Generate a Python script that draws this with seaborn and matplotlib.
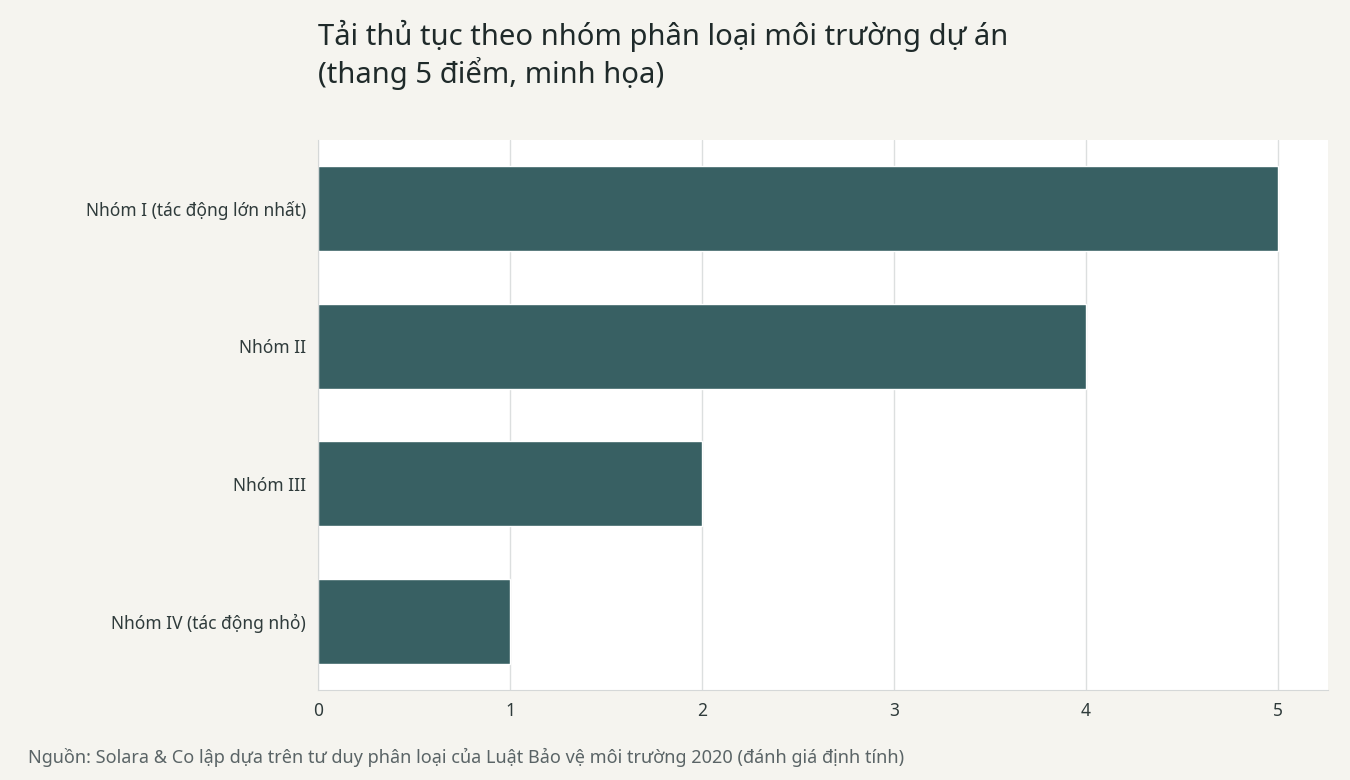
import matplotlib
matplotlib.use("Agg")
import matplotlib.pyplot as plt
import seaborn as sns
import pandas as pd

groups = ["Nhóm I (tác động lớn nhất)", "Nhóm II", "Nhóm III", "Nhóm IV (tác động nhỏ)"]
scores = [5, 4, 2, 1]

df = pd.DataFrame({"group": groups, "score": scores})

sns.set_style("whitegrid")
plt.rcParams["font.family"] = ["Noto Sans", "DejaVu Sans"]

fig = plt.figure(figsize=(13.5, 7.8), dpi=100, facecolor="#f5f4ef")
ax = fig.add_axes([318 / 1350, 90 / 780, 1010 / 1350, 550 / 780])
ax.set_facecolor("white")

sns.barplot(data=df, x="score", y="group", color="#386063", width=0.62, ax=ax, saturation=1)

ax.set_xlim(0, 5.26)
ax.set_xticks([0, 1, 2, 3, 4, 5])
ax.grid(axis="x", color="#dcdfdf", linewidth=1)
ax.grid(axis="y", visible=False)
ax.set_xlabel("")
ax.set_ylabel("")
for s in ["top", "right"]:
    ax.spines[s].set_visible(False)
for s in ["left", "bottom"]:
    ax.spines[s].set_color("#d5d8d8")
ax.tick_params(axis="both", length=5, color="#555555", labelsize=12.5, labelcolor="#2f3b3b")
for lab in ax.get_xticklabels() + ax.get_yticklabels():
    lab.set_fontweight("bold")

fig.text(318 / 1350, 1 - 20 / 780, "Tải thủ tục theo nhóm phân loại môi trường dự án\n(thang 5 điểm, minh họa)",
         ha="left", va="top", fontsize=21, fontweight="bold", color="#1f2a2a", linespacing=1.2)
fig.text(28 / 1350, 1 - 757 / 780, "Nguồn: Solara & Co lập dựa trên tư duy phân loại của Luật Bảo vệ môi trường 2020 (đánh giá định tính)",
         ha="left", va="center", fontsize=13, fontweight="bold", color="#5a6466")

fig.savefig("out.png", dpi=100, facecolor=fig.get_facecolor())
